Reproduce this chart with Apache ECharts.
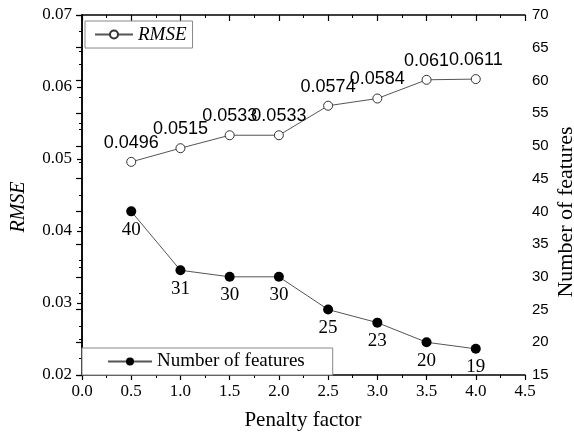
<!DOCTYPE html>
<html>
<head>
<meta charset="utf-8">
<script src="https://cdn.jsdelivr.net/npm/echarts@6/dist/echarts.min.js"></script>
<style>
html,body{margin:0;padding:0;background:#fff;}
#chart{width:574px;height:443px;}
</style>
</head>
<body>
<div id="chart"></div>
<script>
var penalty = [0.5, 1.0, 1.5, 2.0, 2.5, 3.0, 3.5, 4.0];
var rmse = [0.0496, 0.0515, 0.0533, 0.0533, 0.0574, 0.0584, 0.0610, 0.0611];
var features = [40, 31, 30, 30, 25, 23, 20, 19];

var serif = 'Liberation Serif';
var sans = 'Liberation Sans';

var chart = echarts.init(document.getElementById('chart'));
var axisLine = {show: true, lineStyle: {color: '#000', width: 1.5}};

chart.setOption({
  animation: false,
  backgroundColor: '#fff',
  grid: {left: 82, right: 49, top: 15, bottom: 68, containLabel: false},
  legend: [
    {
      data: ['RMSE'], left: 85, top: 21, orient: 'horizontal',
      itemWidth: 38, itemHeight: 10, itemGap: 4,
      padding: [4, 6, 4, 9],
      borderColor: '#888', borderWidth: 1, backgroundColor: '#fff',
      textStyle: {fontFamily: serif, fontStyle: 'italic', fontSize: 19, color: '#000'}
    },
    {
      data: ['Number of features'], left: 82, top: 348, orient: 'horizontal',
      itemWidth: 44, itemHeight: 10, itemGap: 5,
      padding: [4, 28, 4, 25],
      borderColor: '#888', borderWidth: 1, backgroundColor: '#fff',
      textStyle: {fontFamily: serif, fontSize: 19, color: '#000'}
    }
  ],
  xAxis: [
    {
      type: 'value', position: 'bottom', min: 0, max: 4.5, interval: 0.5,
      axisLine: axisLine,
      axisTick: {show: true, inside: false, length: 5, lineStyle: {color: '#000', width: 1.2}},
      minorTick: {show: true, splitNumber: 2, length: 3, lineStyle: {color: '#000', width: 1}},
      splitLine: {show: false},
      axisLabel: {fontFamily: serif, fontSize: 17, color: '#000', margin: 8,
        formatter: function (v) { return v.toFixed(1); }}
    },
    {
      type: 'value', position: 'top', min: 0, max: 4.5, interval: 0.5,
      axisLine: axisLine,
      axisTick: {show: true, inside: true, length: 6, lineStyle: {color: '#000', width: 1.2}},
      minorTick: {show: true, splitNumber: 2, length: 3, lineStyle: {color: '#000', width: 1}},
      splitLine: {show: false},
      axisLabel: {show: false}
    }
  ],
  yAxis: [
    {
      type: 'value', position: 'left', min: 0.02, max: 0.07, interval: 0.01,
      axisLine: axisLine,
      axisTick: {show: true, inside: false, length: 5, lineStyle: {color: '#000', width: 1.2}},
      minorTick: {show: true, splitNumber: 2, length: 3, lineStyle: {color: '#000', width: 1}},
      splitLine: {show: false},
      axisLabel: {fontFamily: serif, fontSize: 17, color: '#000', margin: 10,
        formatter: function (v) { return v.toFixed(2); }}
    },
    {
      type: 'value', position: 'right', min: 15, max: 70, interval: 5,
      axisLine: axisLine,
      axisTick: {show: true, inside: true, length: 6, lineStyle: {color: '#000', width: 1.2}},
      minorTick: {show: true, splitNumber: 2, length: 3, lineStyle: {color: '#000', width: 1}},
      splitLine: {show: false},
      axisLabel: {fontFamily: sans, fontSize: 15, color: '#000', margin: 7}
    }
  ],
  series: [
    {
      name: 'RMSE', type: 'line', xAxisIndex: 0, yAxisIndex: 0,
      data: penalty.map(function (x, i) { return [x, rmse[i]]; }),
      symbol: 'circle', symbolSize: 9,
      itemStyle: {color: '#fff', borderColor: '#333', borderWidth: 1},
      lineStyle: {color: '#555', width: 1},
      label: {show: true, position: 'top', distance: 5, fontFamily: sans, fontSize: 18, color: '#000',
        formatter: function (p) { return String(p.value[1]); }},
      z: 3
    },
    {
      name: 'Number of features', type: 'line', xAxisIndex: 0, yAxisIndex: 1,
      data: penalty.map(function (x, i) { return [x, features[i]]; }),
      symbol: 'circle', symbolSize: 10,
      itemStyle: {color: '#000'},
      lineStyle: {color: '#555', width: 1},
      label: {show: true, position: 'bottom', distance: 4, fontFamily: serif, fontSize: 19, color: '#000',
        formatter: function (p) { return String(p.value[1]); }},
      z: 3
    }
  ],
  graphic: [
    {type: 'text', x: 303, y: 420, style: {text: 'Penalty factor', font: '21px "Liberation Serif"', fill: '#000', align: 'center', verticalAlign: 'middle'}},
    {type: 'text', x: 19, y: 207, rotation: Math.PI / 2, style: {text: 'RMSE', font: 'italic 20px "Liberation Serif"', fill: '#000', align: 'center', verticalAlign: 'middle'}},
    {type: 'text', x: 566, y: 212, rotation: Math.PI / 2, style: {text: 'Number of features', font: '22px "Liberation Serif"', fill: '#000', align: 'center', verticalAlign: 'middle'}}
  ]
});
</script>
</body>
</html>
